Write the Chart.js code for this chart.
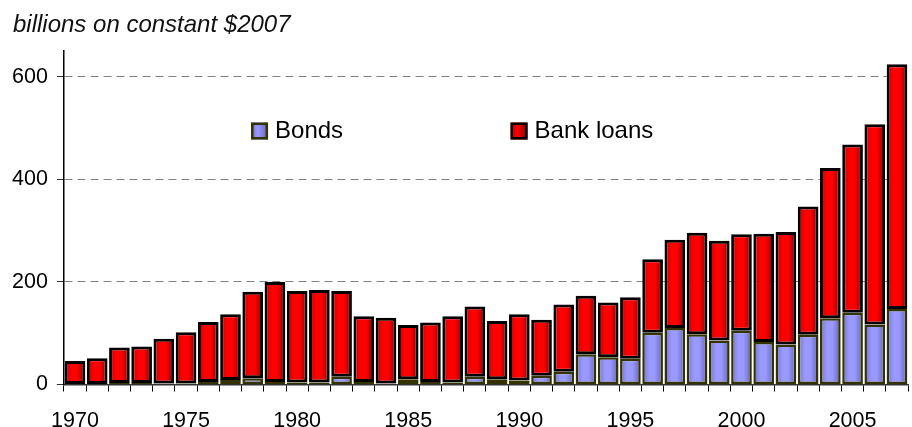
<!DOCTYPE html>
<html>
<head>
<meta charset="utf-8">
<script src="https://cdn.jsdelivr.net/npm/chart.js@4/dist/chart.umd.min.js"></script>
<style>
  html, body { margin: 0; padding: 0; background: #fff; overflow: hidden; }
</style>
</head>
<body>
<canvas id="myChart" width="916" height="427"></canvas>
<script>
// Годы
const years = [1970, 1971, 1972, 1973, 1974, 1975, 1976, 1977, 1978, 1979,
               1980, 1981, 1982, 1983, 1984, 1985, 1986, 1987, 1988, 1989,
               1990, 1991, 1992, 1993, 1994, 1995, 1996, 1997, 1998, 1999,
               2000, 2001, 2002, 2003, 2004, 2005, 2006, 2007];
// Облигации
const bonds = [1, 1, 3, 3, 2, 2, 5, 9, 12, 5,
               4, 4, 15, 5, 2, 10, 5, 4, 15, 10,
               8, 17, 25, 59, 53, 50, 101, 110, 98, 86,
               105, 83, 78, 97, 129, 140, 117, 147];
// Банковские кредиты
const bankLoans = [45, 50, 69, 71, 87, 100, 117, 128, 169, 195,
                   178, 180, 167, 128, 128, 106, 116, 129, 137, 114,
                   129, 109, 131, 114, 107, 120, 143, 172, 198, 194,
                   188, 211, 219, 250, 293, 328, 390, 477];
// Деления оси Y
const yTicks = [0, 200, 400, 600];
const yMax = 650;

const FONT = '"Liberation Sans", Arial, sans-serif';

// Затемнение столбцов по краям (как в Excel)
const shading = {
  id: 'shading',
  beforeDatasetsDraw(chart) {
    chart.data.datasets.forEach((ds, i) => {
      const stops = ds.shade;
      chart.getDatasetMeta(i).data.forEach(el => {
        const half = el.width / 2;
        const g = chart.ctx.createLinearGradient(el.x - half, 0, el.x + half, 0);
        g.addColorStop(0, stops[0]);
        g.addColorStop(0.35, stops[1]);
        g.addColorStop(0.6, stops[1]);
        g.addColorStop(1, stops[2]);
        el.options = Object.assign({}, el.options, { backgroundColor: g });
      });
    });
  }
};

// Заголовок и легенда
const decor = {
  id: 'decor',
  afterDatasetsDraw(chart) {
    const { ctx, chartArea, scales } = chart;
    ctx.save();
    ctx.fillStyle = '#111';
    ctx.font = 'italic 24px ' + FONT;
    ctx.textBaseline = 'middle';
    ctx.fillText('billions on constant $2007', 13, 25);

    const spots = [0.2217, 0.5291];
    const y = scales.y.getPixelForValue(495);
    ctx.font = '24px ' + FONT;
    chart.data.datasets.forEach((ds, i) => {
      const x = chartArea.left + spots[i] * (chartArea.right - chartArea.left);
      const g = ctx.createLinearGradient(x, 0, x + 17, 0);
      g.addColorStop(0, ds.shade[0]);
      g.addColorStop(0.4, ds.shade[1]);
      g.addColorStop(1, ds.shade[2]);
      ctx.fillStyle = g;
      ctx.fillRect(x, y - 8, 17, 17);
      ctx.lineWidth = 2.5;
      ctx.strokeStyle = ds.borderColor;
      ctx.strokeRect(x + 1.25, y - 6.75, 14.5, 14.5);
      ctx.fillStyle = '#000';
      ctx.fillText(ds.label, x + 24, y + 1);
    });
    ctx.restore();
  }
};

let ctx = document.getElementById('myChart').getContext('2d');
let chart = new Chart(ctx, {
  type: 'bar',
  data: {
    labels: years,
    datasets: [{
      label: 'Bonds',
      data: bonds,
      shade: ['#7474c8', '#9999ff', '#6464b4'],
      backgroundColor: (c) => c.dataset.shade[1],
      borderColor: '#333300',
      borderWidth: 2.5,
      borderSkipped: false
    }, {
      label: 'Bank loans',
      data: bankLoans,
      shade: ['#c40000', '#ff0000', '#880000'],
      backgroundColor: (c) => c.dataset.shade[1],
      borderColor: '#000000',
      borderWidth: 3,
      borderSkipped: false
    }]
  },
  options: {
    responsive: false,
    animation: false,
    layout: { padding: { left: 3, right: 0, top: 51, bottom: -24 } },
    datasets: { bar: { categoryPercentage: 1, barPercentage: 0.93 } },
    plugins: {
      legend: { display: false },
      tooltip: { enabled: false },
      title: { display: false }
    },
    scales: {
      x: {
        stacked: true,
        grid: { offset: true, drawOnChartArea: false, tickLength: 7, tickColor: '#000' },
        border: { color: '#333', width: 1.5 },
        ticks: {
          autoSkip: false,
          maxRotation: 0,
          padding: 19,
          color: '#000',
          font: { family: FONT, size: 21.5, lineHeight: 1 },
          callback: (v, i) => (years[i] % 5 === 0 ? String(years[i]) : '')
        }
      },
      y: {
        stacked: true,
        min: 0,
        max: yMax,
        afterBuildTicks: (axis) => { axis.ticks = yTicks.map(v => ({ value: v })); },
        grid: {
          color: (c) => (c.tick && c.tick.value === 0 ? 'rgba(0,0,0,0)' : '#808080'),
          tickColor: '#333',
          tickLength: 7
        },
        border: { color: '#000', width: 1.5, dash: [8, 5] },
        ticks: {
          padding: 9,
          color: '#000',
          font: { family: FONT, size: 21.5 }
        }
      }
    }
  },
  plugins: [shading, decor]
});
</script>
</body>
</html>
